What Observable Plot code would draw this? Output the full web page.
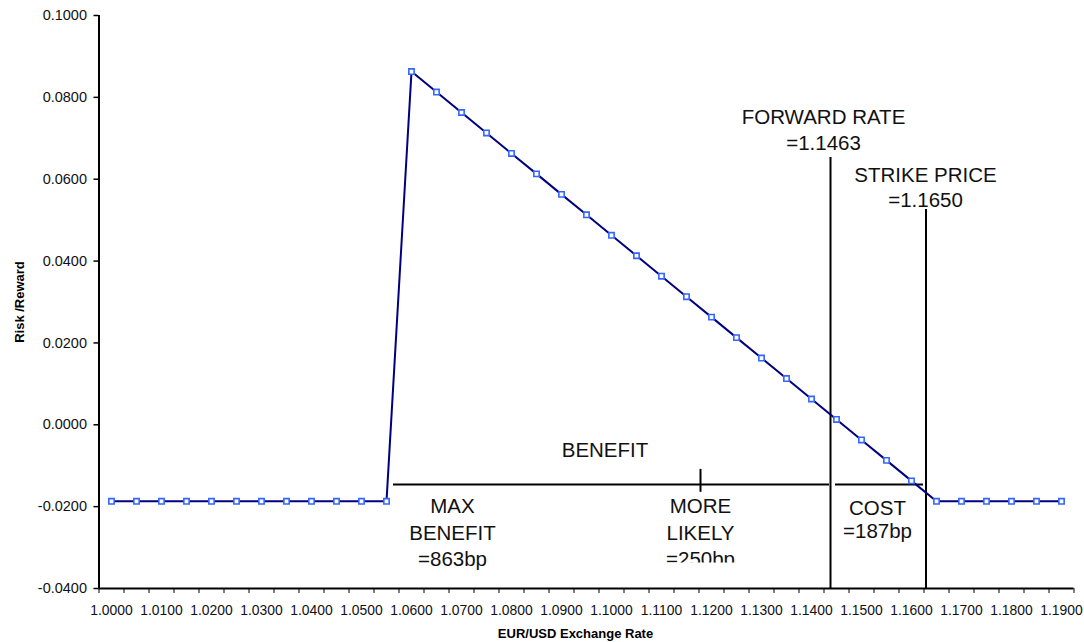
<!DOCTYPE html>
<html>
<head>
<meta charset="utf-8">
<script src="https://cdn.jsdelivr.net/npm/d3@7"></script>
<script src="https://cdn.jsdelivr.net/npm/@observablehq/plot@0.6"></script>
<style>
  html, body { margin: 0; padding: 0; background: #fff; }
  #chart { width: 1084px; height: 642px; }
</style>
</head>
<body>
<div id="chart"></div>
<script>
// EUR/USD exchange rate categories (x)
const rates = [
  1.000, 1.005, 1.010, 1.015, 1.020, 1.025, 1.030, 1.035, 1.040, 1.045,
  1.050, 1.055, 1.060, 1.065, 1.070, 1.075, 1.080, 1.085, 1.090, 1.095,
  1.100, 1.105, 1.110, 1.115, 1.120, 1.125, 1.130, 1.135, 1.140, 1.145,
  1.150, 1.155, 1.160, 1.165, 1.170, 1.175, 1.180, 1.185, 1.190
];
// Risk / reward
const payoff = [
  -0.0187, -0.0187, -0.0187, -0.0187, -0.0187, -0.0187, -0.0187, -0.0187, -0.0187, -0.0187,
  -0.0187, -0.0187, 0.0863, 0.0813, 0.0763, 0.0713, 0.0663, 0.0613, 0.0563, 0.0513,
  0.0463, 0.0413, 0.0363, 0.0313, 0.0263, 0.0213, 0.0163, 0.0113, 0.0063, 0.0013,
  -0.0037, -0.0087, -0.0137, -0.0187, -0.0187, -0.0187, -0.0187, -0.0187, -0.0187
];
// Axis tick labels
const xTickLabels = [1.00, 1.01, 1.02, 1.03, 1.04, 1.05, 1.06, 1.07, 1.08, 1.09,
  1.10, 1.11, 1.12, 1.13, 1.14, 1.15, 1.16, 1.17, 1.18, 1.19];
const yTickLabels = [-0.04, -0.02, 0.00, 0.02, 0.04, 0.06, 0.08, 0.10];

// Annotation lines (data units)
const vLines = [
  {x: 1.1438, y1: -0.04, y2: 0.0653},   // forward rate
  {x: 1.1629, y1: -0.04, y2: 0.0526},   // strike price
  {x: 1.1178, y1: -0.0165, y2: -0.0109} // small marker
];
const hLines = [
  {y: -0.01456, x1: 1.0564, x2: 1.1436},
  {y: -0.01456, x1: 1.1448, x2: 1.1624}
];
// Annotation texts (data units, baseline)
const notes = [
  {t: "FORWARD RATE", x: 1.1424, y: 0.07337},
  {t: "=1.1463", x: 1.1424, y: 0.06702},
  {t: "STRIKE PRICE", x: 1.1628, y: 0.05920},
  {t: "=1.1650", x: 1.1628, y: 0.05309},
  {t: "BENEFIT", x: 1.0987, y: -0.00799},
  {t: "MAX", x: 1.0682, y: -0.02167},
  {t: "BENEFIT", x: 1.0682, y: -0.02815},
  {t: "=863bp", x: 1.0682, y: -0.03462},
  {t: "MORE", x: 1.1178, y: -0.02167},
  {t: "LIKELY", x: 1.1178, y: -0.02815},
  {t: "=250bp", x: 1.1178, y: -0.03462},
  {t: "COST", x: 1.1532, y: -0.02192},
  {t: "=187bp", x: 1.1532, y: -0.02754}
];

const data = rates.map((r, i) => ({rate: r, value: payoff[i]}));
const step = 0.005;
const xDomain = [rates[0] - step / 2, rates[rates.length - 1] + step / 2];
const boundaries = rates.map(r => r - step / 2).concat([xDomain[1]]);
const font = "'Liberation Sans', Arial, sans-serif";

const chart = Plot.plot({
  width: 1084,
  height: 642,
  marginLeft: 98.5,
  marginRight: 10.5,
  marginTop: 15,
  marginBottom: 54,
  style: {background: "white", fontFamily: font, fontSize: "13.5px", color: "black", overflow: "visible"},
  x: {type: "linear", domain: xDomain, label: null},
  y: {domain: [-0.04, 0.1], label: null},
  marks: [
    Plot.axisX({ticks: boundaries, tickSize: 5, tickFormat: () => "", label: null, strokeWidth: 1}),
    Plot.axisX({ticks: xTickLabels, tickSize: 0, tickPadding: 17, tickFormat: d => d.toFixed(4), label: null, fill: "#111"}),
    Plot.axisY({ticks: yTickLabels, tickSize: 5, tickPadding: 7, tickFormat: d => d.toFixed(4), label: null, strokeWidth: 1.5, fill: "#111"}),
    Plot.ruleX([xDomain[0]], {stroke: "black", strokeWidth: 2}),
    Plot.ruleY([-0.04], {stroke: "black", strokeWidth: 2}),
    Plot.ruleX(vLines, {x: "x", y1: "y1", y2: "y2", stroke: "black", strokeWidth: 2}),
    Plot.ruleY(hLines, {y: "y", x1: "x1", x2: "x2", stroke: "black", strokeWidth: 2}),
    Plot.line(data, {x: "rate", y: "value", stroke: "#000080", strokeWidth: 2}),
    Plot.dot(data, {x: "rate", y: "value", symbol: "square", r: 3, stroke: "#3366ff", strokeWidth: 1.6, fill: "white"}),
    Plot.text(notes, {x: "x", y: "y", text: "t", lineAnchor: "bottom", fontSize: 20.5, fill: "#111", fontFamily: font}),
    Plot.text(["Risk /Reward"], {frameAnchor: "left", dx: -79, rotate: -90, textAnchor: "middle", lineAnchor: "middle", fontWeight: "bold", fontSize: 13, fill: "black"}),
    Plot.text(["EUR/USD Exchange Rate"], {frameAnchor: "bottom", dy: 49, dx: -11, textAnchor: "middle", lineAnchor: "bottom", fontWeight: "bold", fontSize: 13, fill: "black"})
  ]
});

document.getElementById("chart").appendChild(chart);

const svg = d3.select(chart);
// Tick label sizes
svg.selectAll('g[aria-label="x-axis tick label"] text').style("font-size", "13.9px");
svg.selectAll('g[aria-label="y-axis tick label"] text').style("font-size", "14.5px");

// The "=250bp" label is cut off at the bottom in the original
const defs = svg.append("defs");
defs.append("clipPath").attr("id", "clip250")
  .append("rect").attr("x", -100).attr("y", -40).attr("width", 200).attr("height", 36);
svg.selectAll("text").filter(function () { return this.textContent === "=250bp"; })
  .attr("clip-path", "url(#clip250)");
</script>
</body>
</html>
